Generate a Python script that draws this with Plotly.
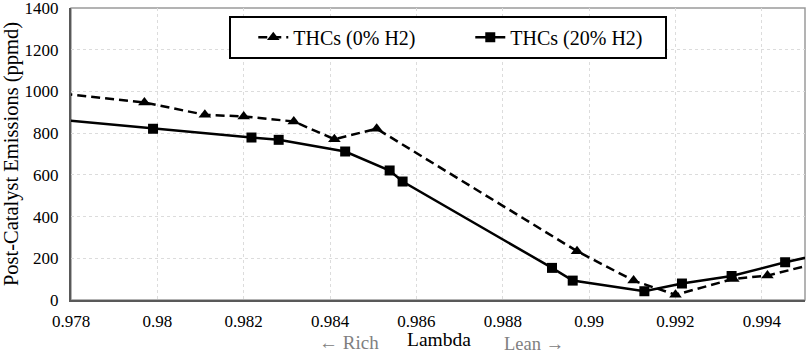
import plotly.graph_objects as go

# ---- data ----
lam_0 = [0.9775, 0.9797, 0.9811, 0.9820, 0.98316, 0.9841, 0.98508, 0.98972, 0.99103, 0.99200, 0.99334, 0.99413, 0.9955]
thc_0 = [996, 947, 888, 880, 856, 771, 821, 234, 93, 25, 101, 117, 188]

lam_20 = [0.9775, 0.97990, 0.98218, 0.98281, 0.98435, 0.98538, 0.98568, 0.98914, 0.98962, 0.99128, 0.99215, 0.99330, 0.99454, 0.9955]
thc_20 = [869, 821, 779, 768, 712, 621, 568, 154, 93, 42, 79, 115, 181, 225]

x_tickvals = [0.978, 0.980, 0.982, 0.984, 0.986, 0.988, 0.990, 0.992, 0.994]
x_ticktext = ["0.978", "0.98", "0.982", "0.984", "0.986", "0.988", "0.99", "0.992", "0.994"]
y_tickvals = [0, 200, 400, 600, 800, 1000, 1200, 1400]

name_0 = "THCs (0% H2)"
name_20 = "THCs (20% H2)"

FONT = "Times New Roman, Liberation Serif, DejaVu Serif, serif"

fig = go.Figure()
fig.add_trace(go.Scatter(
    x=lam_0, y=thc_0, name=name_0, mode="lines+markers",
    line=dict(color="black", width=2.5, dash="9px,5px"),
    marker=dict(symbol="triangle-up", size=11, color="black"),
))
fig.add_trace(go.Scatter(
    x=lam_20, y=thc_20, name=name_20, mode="lines+markers",
    line=dict(color="black", width=2.5),
    marker=dict(symbol="square", size=10, color="black"),
))

fig.update_layout(
    width=809, height=353,
    margin=dict(l=71, r=4, t=8, b=53, autoexpand=False),
    paper_bgcolor="white", plot_bgcolor="white",
    font=dict(family=FONT, size=17, color="black"),
    showlegend=True,
    legend=dict(
        orientation="h", x=0.514, xanchor="center", y=0.90, yanchor="middle",
        bgcolor="white", bordercolor="black", borderwidth=2,
        font=dict(family=FONT, size=20, color="black"),
        entrywidth=150, indentation=22,
    ),
    xaxis=dict(
        range=[0.978, 0.995], tickvals=x_tickvals, ticktext=x_ticktext,
        showgrid=True, gridcolor="#dcdcdc", gridwidth=1, griddash="3px,3px",
        showline=True, linecolor="#595959", linewidth=2, zeroline=False,
        ticks="outside", ticklen=5, tickcolor="rgba(0,0,0,0)",
        automargin=False, ticklabeloverflow="allow",
        tickfont=dict(family=FONT, size=17, color="black"),
    ),
    yaxis=dict(
        range=[0, 1400], tickvals=y_tickvals,
        showgrid=True, gridcolor="#dcdcdc", gridwidth=1, griddash="3px,3px",
        showline=True, linecolor="#595959", linewidth=2, zeroline=False,
        ticks="outside", ticklen=7, tickcolor="rgba(0,0,0,0)",
        automargin=False, ticklabeloverflow="allow",
        tickfont=dict(family=FONT, size=17, color="black"),
        title=dict(text="Post-Catalyst Emissions (ppmd)", standoff=6,
                   font=dict(family=FONT, size=20.5, color="black")),
    ),
    shapes=[dict(type="rect", xref="paper", yref="paper", x0=0, y0=0, x1=1, y1=1,
                 line=dict(color="#9a9a9a", width=1.5), layer="below")],
    annotations=[
        dict(text="Lambda", xref="paper", yref="paper", x=0.501, y=-0.135,
             showarrow=False, font=dict(family=FONT, size=19.5, color="black"),
             xanchor="center", yanchor="middle"),
        dict(text="\u2190 Rich", xref="paper", yref="paper", x=0.379, y=-0.145,
             showarrow=False, font=dict(family=FONT, size=19, color="#808080"),
             xanchor="center", yanchor="middle"),
        dict(text="Lean \u2192", xref="paper", yref="paper", x=0.631, y=-0.152,
             showarrow=False, font=dict(family=FONT, size=18.5, color="#808080"),
             xanchor="center", yanchor="middle"),
    ],
)

fig.write_html("out.html", config={"displayModeBar": False},
               post_script="document.body.style.margin='0';")
